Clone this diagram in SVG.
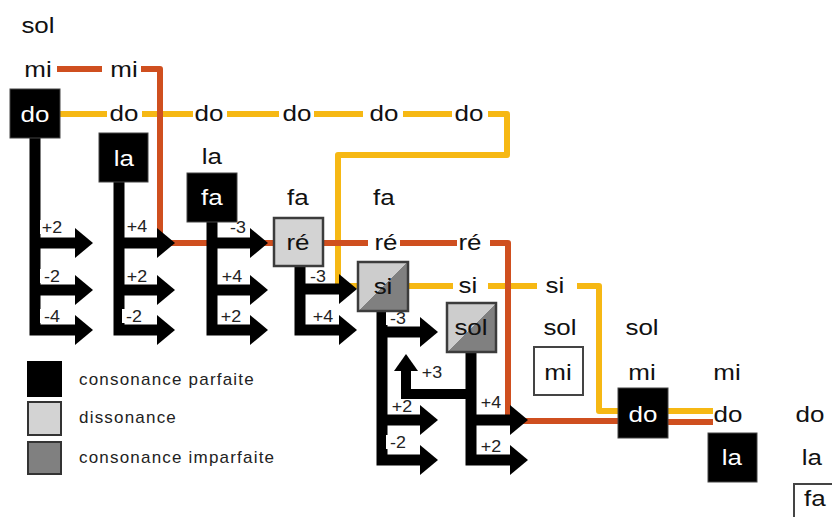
<svg xmlns="http://www.w3.org/2000/svg" width="832" height="517" viewBox="0 0 832 517">
<style>
.t{font-family:"Liberation Sans",Arial,sans-serif;font-size:22px;text-anchor:middle;fill:#111;transform-box:fill-box;transform-origin:center;transform:scaleX(1.18)}
.w{fill:#fff}
.lb{font-family:"Liberation Sans",Arial,sans-serif;font-size:17px;text-anchor:middle;fill:#222;transform-box:fill-box;transform-origin:center;transform:scaleX(1.05)}
.lbg{fill:#fff}
.yl{fill:none;stroke:#f6b814;stroke-width:6;stroke-linejoin:round}
.rd{fill:none;stroke:#cf4f1f;stroke-width:6;stroke-linejoin:round}
.ar{fill:none;stroke:#000;stroke-width:11;stroke-linejoin:miter;marker-end:url(#ah)}
.bk{fill:#000;stroke:#444;stroke-width:1}
.ds{fill:#d3d3d3;stroke:#3c3c3c;stroke-width:2.5}
.im{fill:url(#gi);stroke:#3c3c3c;stroke-width:2.5}
.wb{fill:#fff;stroke:#444;stroke-width:2}
.lg{font-family:"Liberation Sans",Arial,sans-serif;font-size:17px;fill:#222;letter-spacing:1.2px}
</style>
<defs>
<marker id="ah" markerUnits="userSpaceOnUse" markerWidth="18" markerHeight="30" refX="0" refY="15" orient="auto" overflow="visible">
<path d="M0,0 L18,15 L0,30 Z" fill="#000"/>
</marker>
<marker id="ahs" markerUnits="userSpaceOnUse" markerWidth="17" markerHeight="24" refX="0" refY="12" orient="auto" overflow="visible">
<path d="M0,0 L17,12 L0,24 Z" fill="#000"/>
</marker>
<linearGradient id="gi" x1="0" y1="0" x2="1" y2="1">
<stop offset="0.5" stop-color="#cdcdcd"/>
<stop offset="0.5" stop-color="#808080"/>
</linearGradient>
</defs>
<rect width="832" height="517" fill="#fff"/>

<g id="connectors">
<g id="lines-yellow">
<path class="yl" d="M60,114 H107"/>
<path class="yl" d="M142,114 H193"/>
<path class="yl" d="M227,114 H279"/>
<path class="yl" d="M314,114 H363"/>
<path class="yl" d="M403,114 H452"/>
<path class="yl" d="M488,114 H507 V155 H338 V286 H358"/>
<path class="yl" d="M408,286 H453"/>
<path class="yl" d="M488,286 H537"/>
<path class="yl" d="M577,286 H599 V411 H618"/>
<path class="yl" d="M668,411 H713"/>
</g>
<g id="lines-red">
<path class="rd" d="M57,69 H102"/>
<path class="rd" d="M141,69 H160 V243 H274"/>
<path class="rd" d="M323,243 H368"/>
<path class="rd" d="M400,243 H457"/>
<path class="rd" d="M490,243 H508 V421 H618"/>
<path class="rd" d="M668,422 H713"/>
</g>
<g id="arrows-do">
<path class="ar" d="M35,135 V330 H75"/>
<path class="ar" d="M35,243 H75"/>
<path class="ar" d="M35,290 H75"/>
</g>
<g id="arrows-la">
<path class="ar" d="M119,180 V330 H157"/>
<path class="ar" d="M119,243 H157"/>
<path class="ar" d="M119,290 H157"/>
</g>
<g id="arrows-fa">
<path class="ar" d="M212,220 V330 H250"/>
<path class="ar" d="M212,243 H250"/>
<path class="ar" d="M212,290 H250"/>
</g>
<g id="arrows-re">
<path class="ar" d="M300,262 V330 H339"/>
<path class="ar" d="M300,289 H339"/>
</g>
<g id="arrows-si">
<path class="ar" d="M382,309 V460 H420"/>
<path class="ar" d="M382,332 H420"/>
<path class="ar" d="M382,420 H420"/>
</g>
<g id="arrows-sol">
<path class="ar" d="M471,350 V460 H510"/>
<path class="ar" d="M471,420 H510"/>
<path d="M471,394 H406 V371" fill="none" stroke="#000" stroke-width="10" stroke-linejoin="miter" marker-end="url(#ahs)"/>
</g>
<g id="interval-labels">
<rect class="lbg" x="40" y="220" width="24" height="14"/><text class="lb" x="52" y="233">+2</text>
<rect class="lbg" x="40" y="269" width="24" height="14"/><text class="lb" x="52" y="282">-2</text>
<rect class="lbg" x="40" y="309" width="24" height="14"/><text class="lb" x="52" y="322">-4</text>
<rect class="lbg" x="125" y="219" width="24" height="14"/><text class="lb" x="137" y="232">+4</text>
<rect class="lbg" x="125" y="269" width="24" height="14"/><text class="lb" x="137" y="282">+2</text>
<rect class="lbg" x="122" y="309" width="24" height="14"/><text class="lb" x="134" y="322">-2</text>
<rect class="lbg" x="226" y="220" width="24" height="14"/><text class="lb" x="238" y="233">-3</text>
<rect class="lbg" x="220" y="269" width="24" height="14"/><text class="lb" x="232" y="282">+4</text>
<rect class="lbg" x="219" y="309" width="24" height="14"/><text class="lb" x="231" y="322">+2</text>
<rect class="lbg" x="306" y="269" width="24" height="14"/><text class="lb" x="318" y="282">-3</text>
<rect class="lbg" x="311" y="309" width="24" height="14"/><text class="lb" x="323" y="322">+4</text>
<rect class="lbg" x="386" y="311" width="24" height="14"/><text class="lb" x="398" y="324">-3</text>
<rect class="lbg" x="390" y="399" width="24" height="14"/><text class="lb" x="402" y="412">+2</text>
<rect class="lbg" x="386" y="435" width="24" height="14"/><text class="lb" x="398" y="448">-2</text>
<rect class="lbg" x="420" y="365" width="24" height="14"/><text class="lb" x="432" y="378">+3</text>
<rect class="lbg" x="479" y="395" width="24" height="14"/><text class="lb" x="491" y="408">+4</text>
<rect class="lbg" x="479" y="439" width="24" height="14"/><text class="lb" x="491" y="452">+2</text>
</g>
</g>

<g id="n-sol-a"><text class="t" x="38" y="33">sol</text></g>
<g id="n-mi-a"><text class="t" x="38" y="77">mi</text></g>
<g id="n-mi-b"><text class="t" x="124" y="77">mi</text></g>
<g id="n-do-box1"><rect class="bk" x="10" y="89" width="50" height="49"/><text class="t w" x="35" y="122">do</text></g>
<g id="n-do-b"><text class="t" x="124" y="121">do</text></g>
<g id="n-do-c"><text class="t" x="209" y="121">do</text></g>
<g id="n-do-d"><text class="t" x="297" y="121">do</text></g>
<g id="n-do-e"><text class="t" x="384" y="121">do</text></g>
<g id="n-do-f"><text class="t" x="469" y="121">do</text></g>
<g id="n-la-box1"><rect class="bk" x="99" y="133" width="49" height="49"/><text class="t w" x="124" y="166">la</text></g>
<g id="n-la-b"><text class="t" x="212" y="164">la</text></g>
<g id="n-fa-box1"><rect class="bk" x="187" y="173" width="50" height="49"/><text class="t w" x="212" y="205">fa</text></g>
<g id="n-fa-b"><text class="t" x="298" y="205">fa</text></g>
<g id="n-fa-c"><text class="t" x="384" y="205">fa</text></g>
<g id="n-re-box"><rect class="ds" x="274" y="218" width="49" height="48"/><text class="t" x="298" y="250">ré</text></g>
<g id="n-re-b"><text class="t" x="386" y="250">ré</text></g>
<g id="n-re-c"><text class="t" x="470" y="250">ré</text></g>
<g id="n-si-box"><rect class="im" x="358" y="262" width="50" height="49"/><text class="t" x="383" y="294">si</text></g>
<g id="n-si-b"><text class="t" x="468" y="293">si</text></g>
<g id="n-si-c"><text class="t" x="555" y="293">si</text></g>
<g id="n-sol-box"><rect class="im" x="447" y="303" width="49" height="49"/><text class="t" x="471" y="335">sol</text></g>
<g id="n-sol-b"><text class="t" x="560" y="335">sol</text></g>
<g id="n-sol-c"><text class="t" x="642" y="335">sol</text></g>
<g id="n-mi-box"><rect class="wb" x="534" y="347" width="49" height="48"/><text class="t" x="558" y="380">mi</text></g>
<g id="n-mi-c"><text class="t" x="642" y="380">mi</text></g>
<g id="n-mi-d"><text class="t" x="727" y="380">mi</text></g>
<g id="n-do-box2"><rect class="bk" x="618" y="388" width="50" height="50"/><text class="t w" x="643" y="422">do</text></g>
<g id="n-do-g"><text class="t" x="728" y="422">do</text></g>
<g id="n-do-h"><text class="t" x="810" y="422">do</text></g>
<g id="n-la-box2"><rect class="bk" x="708" y="433" width="49" height="49"/><text class="t w" x="732" y="465">la</text></g>
<g id="n-la-c"><text class="t" x="812" y="465">la</text></g>
<g id="n-fa-box2"><rect class="wb" x="794" y="484" width="50" height="50"/><text class="t" x="815" y="506">fa</text></g>

<g id="legend">
<rect x="27" y="361" width="35" height="36" fill="#000"/>
<rect x="28" y="402" width="33" height="33" fill="#d3d3d3" stroke="#333" stroke-width="2"/>
<rect x="28" y="442" width="33" height="32" fill="#808080" stroke="#333" stroke-width="2"/>
<text class="lg" x="79" y="385">consonance parfaite</text>
<text class="lg" x="79" y="423">dissonance</text>
<text class="lg" x="79" y="463">consonance imparfaite</text>
</g>
</svg>
